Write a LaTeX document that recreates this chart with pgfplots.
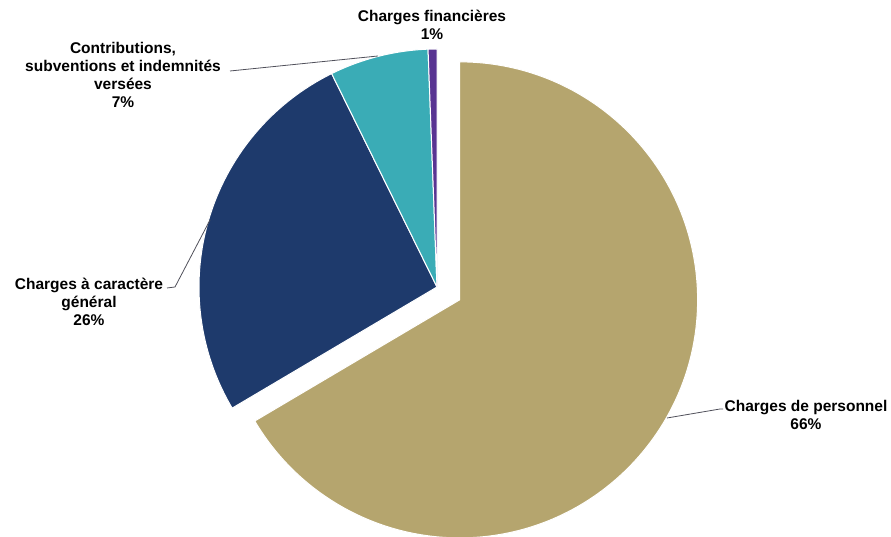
\documentclass[border=0pt]{standalone}
\usepackage{pgfplots}
\pgfplotsset{compat=1.18}
\usepackage{fontspec}
\setmainfont{Liberation Sans}
\definecolor{cTan}{RGB}{181,165,110}
\definecolor{cNavy}{RGB}{30,58,108}
\definecolor{cTeal}{RGB}{58,172,182}
\definecolor{cPurple}{RGB}{88,52,146}
\definecolor{cLead}{RGB}{80,80,90}
\begin{document}
\begin{tikzpicture}
\begin{axis}[width=891pt,height=537pt,scale only axis,hide axis,
  xmin=0,xmax=891,ymin=0,ymax=537,clip=false]
\xdef\sa{90}
\foreach \v/\col/\ex in {66.5/cTan/26, 26.2/cNavy/0, 6.7/cTeal/0, 0.6/cPurple/0} {
  \pgfmathsetmacro\e{\sa-3.6*\v}
  \pgfmathsetmacro\m{(\sa+\e)/2}
  \pgfmathsetmacro\ox{437+\ex*cos(\m)}
  \pgfmathsetmacro\oy{250+\ex*sin(\m)}
  \edef\slice{\noexpand\fill[\col,draw=white,line width=1pt] (axis cs:\ox,\oy) -- ++(\sa:238) arc[start angle=\sa,end angle=\e,radius=238] -- cycle;}
  \slice
  \xdef\sa{\e}
}
\draw[cLead,line width=0.8pt] (axis cs:230,466) -- (axis cs:378,481);
\draw[cLead,line width=0.8pt] (axis cs:167,249) -- (axis cs:175,250) -- (axis cs:210,317);
\draw[cLead,line width=0.8pt] (axis cs:667,119) -- (axis cs:720,128) -- (axis cs:723,128);
\tikzset{lab/.style={align=center,inner sep=0pt,font=\fontsize{15.5}{18}\selectfont\bfseries}}
\node[lab] at (axis cs:432,512) {Charges financières\\1\%};
\node[lab] at (axis cs:123,462) {Contributions,\\subventions et indemnités\\versées\\7\%};
\node[lab] at (axis cs:89,235) {Charges à caractère\\général\\26\%};
\node[lab] at (axis cs:806,122) {Charges de personnel\\66\%};
\end{axis}
\pgfresetboundingbox
\path (0,0) rectangle (891pt,537pt);
\end{tikzpicture}
\end{document}
